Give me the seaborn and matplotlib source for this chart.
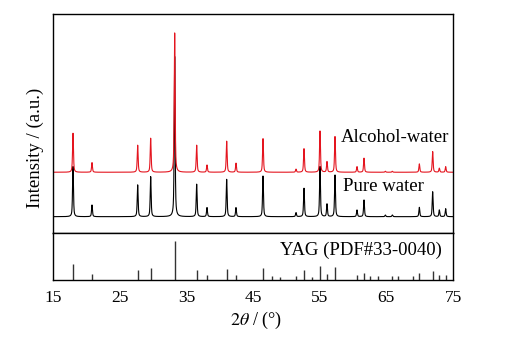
import numpy as np
import pandas as pd
import matplotlib
matplotlib.use("Agg")
import matplotlib.pyplot as plt
import seaborn as sns

# ---- data ----
peak_pos = [18.0, 20.85, 27.7, 29.65, 33.25, 36.55, 38.1, 41.05, 42.45, 46.5,
            51.45, 52.65, 55.05, 56.1, 57.3, 60.6, 61.65, 64.85, 65.9, 69.95,
            71.95, 72.95, 73.9]
alcohol_int = [28.0, 6.9, 19.4, 24.4, 100.0, 19.4, 5.2, 22.3, 6.5, 24.1,
               2.2, 16.9, 29.6, 7.6, 25.6, 4.0, 10.1, 0.7, 0.7, 6.0,
               14.8, 2.9, 4.0]
pure_int = [36.0, 8.4, 22.8, 28.7, 115.0, 23.3, 6.5, 26.8, 6.5, 29.2,
            2.9, 20.4, 36.0, 9.1, 29.9, 4.8, 12.0, 1.2, 1.2, 6.7,
            17.9, 4.8, 5.7]

ref_pos = [18.0, 20.85, 27.7, 29.65, 33.25, 36.55, 38.1, 41.05, 42.45, 46.5,
           47.8, 49.05, 51.45, 52.65, 53.85, 55.05, 56.1, 57.3, 60.6, 61.65,
           62.55, 63.8, 65.9, 66.8, 68.95, 69.95, 71.95, 72.95, 73.9]
ref_int = [41, 15, 25, 31, 100, 26, 13, 28, 13, 30,
           11, 9, 11, 26, 9, 36, 17, 33, 13, 19,
           11, 11, 11, 11, 11, 18, 23, 13, 14]

series_names = ["Pure water", "Alcohol-water"]
series_offsets = [11.5, 43.4]
xticks = [15, 25, 35, 45, 55, 65, 75]

# ---- build profiles from the peak list ----
two_theta = np.arange(15.0, 75.0001, 0.01)
fwhm = 0.16
eta = 0.6


def profile(pos, inten):
    y = np.zeros_like(two_theta)
    for p, h in zip(pos, inten):
        d = (two_theta - p) / (fwhm / 2)
        lor = 1.0 / (1.0 + d ** 2)
        gau = np.exp(-np.log(2) * d ** 2)
        y += h * (eta * lor + (1 - eta) * gau)
    return y


frames = []
for name, inten, off in zip(series_names, [pure_int, alcohol_int], series_offsets):
    frames.append(pd.DataFrame({"two_theta": two_theta,
                                "intensity": profile(peak_pos, inten) + off,
                                "sample": name}))
df = pd.concat(frames, ignore_index=True)
ref_df = pd.DataFrame({"two_theta": ref_pos, "intensity": ref_int})

# ---- figure ----
sns.set_theme(style="white")
plt.rcParams["font.family"] = ["Liberation Serif", "DejaVu Serif"]
plt.rcParams["mathtext.fontset"] = "stix"

fig = plt.figure(figsize=(5.05, 3.39), dpi=100)
L, R = 53 / 505, 453 / 505
ax1 = fig.add_axes([L, 1 - 232.7 / 339, R - L, (232.7 - 14.3) / 339])
ax2 = fig.add_axes([L, 1 - 280.3 / 339, R - L, (280.3 - 232.7) / 339], sharex=ax1)

sns.lineplot(data=df, x="two_theta", y="intensity", hue="sample",
             hue_order=series_names, palette=["black", "#E4151F"],
             linewidth=0.8, legend=False, ax=ax1, estimator=None, sort=False)

ax2.vlines(ref_df["two_theta"], 0, ref_df["intensity"], color="#333333", linewidth=1.0)

ax1.set_ylim(0, 156.8)
ax2.set_ylim(0, 120)
ax1.set_xlim(15, 75)

for ax in (ax1, ax2):
    for sp in ax.spines.values():
        sp.set_color("black")
        sp.set_linewidth(1.0)
    ax.set_yticks([])
    ax.set_ylabel("")
    ax.set_xlabel("")

ax1.tick_params(axis="x", bottom=False, labelbottom=False)
ax2.set_xticks(xticks)
ax2.tick_params(axis="x", direction="in", length=3, width=0.8, color="black",
                labelsize=12.5, pad=7, labelcolor="black")

fs = 13.5
ax1.text(74.5, 68.7, "Alcohol-water", ha="right", va="center", fontsize=fs, color="black")
ax1.text(70.7, 33.5, "Pure water", ha="right", va="center", fontsize=fs, color="black")
ax2.text(73.3, 76, "YAG (PDF#33-0040)", ha="right", va="center", fontsize=fs, color="black")

fig.text(256 / 505, 1 - 320 / 339, r"$\mathit{2\theta}$ / (°)", ha="center", va="center",
         fontsize=13, color="black")
fig.text(35 / 505, 1 - 148 / 339, "Intensity / (a.u.)", ha="center", va="center",
         rotation=90, fontsize=13.5, color="black")

fig.savefig("out.png", dpi=100, facecolor="white")
